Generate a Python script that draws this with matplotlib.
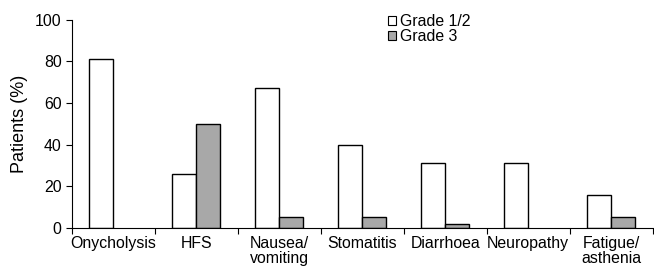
import matplotlib.pyplot as plt
import numpy as np
from matplotlib.patches import Patch

plt.rcParams["font.family"] = ["Liberation Sans", "DejaVu Sans"]

categories = ["Onycholysis", "HFS", "Nausea/\nvomiting", "Stomatitis",
              "Diarrhoea", "Neuropathy", "Fatigue/\nasthenia"]
grade12 = [81, 26, 67, 40, 31, 31, 16]
grade3 = [0, 50, 5, 5, 2, 0, 5]
yticks = [0, 20, 40, 60, 80, 100]

fig = plt.figure(figsize=(6.54, 2.7), dpi=100)
ax = fig.add_axes([0.110, 0.156, 0.888, 0.771])

x = np.arange(len(categories)) + 0.5
w = 0.29
ax.bar(x - w / 2, grade12, width=w, color="white", edgecolor="black",
       linewidth=1.0, label="Grade 1/2")
g3 = [v if v > 0 else np.nan for v in grade3]
ax.bar(x + w / 2, g3, width=w, color="#a8a8a8", edgecolor="black",
       linewidth=1.0, label="Grade 3")

ax.set_xlim(0, len(categories))
ax.set_ylim(0, 100)
ax.set_yticks(yticks)
ax.set_xticks(np.arange(len(categories) + 1), minor=False)
ax.set_xticklabels([])
ax.set_xticks(x, minor=True)
ax.set_xticklabels(categories, minor=True, fontsize=11.4, linespacing=1.0)
ax.tick_params(axis="x", which="minor", length=0, pad=6)
ax.tick_params(axis="x", which="major", length=4, direction="out")
ax.tick_params(axis="y", labelsize=11.4, length=4, direction="out")

ax.spines["top"].set_visible(False)
ax.spines["right"].set_visible(False)
ax.set_ylabel("Patients (%)", fontsize=13, labelpad=5)

handles = [Patch(facecolor="white", edgecolor="black", linewidth=0.8),
           Patch(facecolor="#a8a8a8", edgecolor="black", linewidth=0.8)]
ax.legend(handles, ["Grade 1/2", "Grade 3"], loc="upper left",
          bbox_to_anchor=(0.53, 1.065), frameon=False, fontsize=11.4,
          handlelength=0.5, handleheight=0.5, handletextpad=0.3,
          labelspacing=0.0, borderpad=0)

fig.savefig("out.png", dpi=100)
